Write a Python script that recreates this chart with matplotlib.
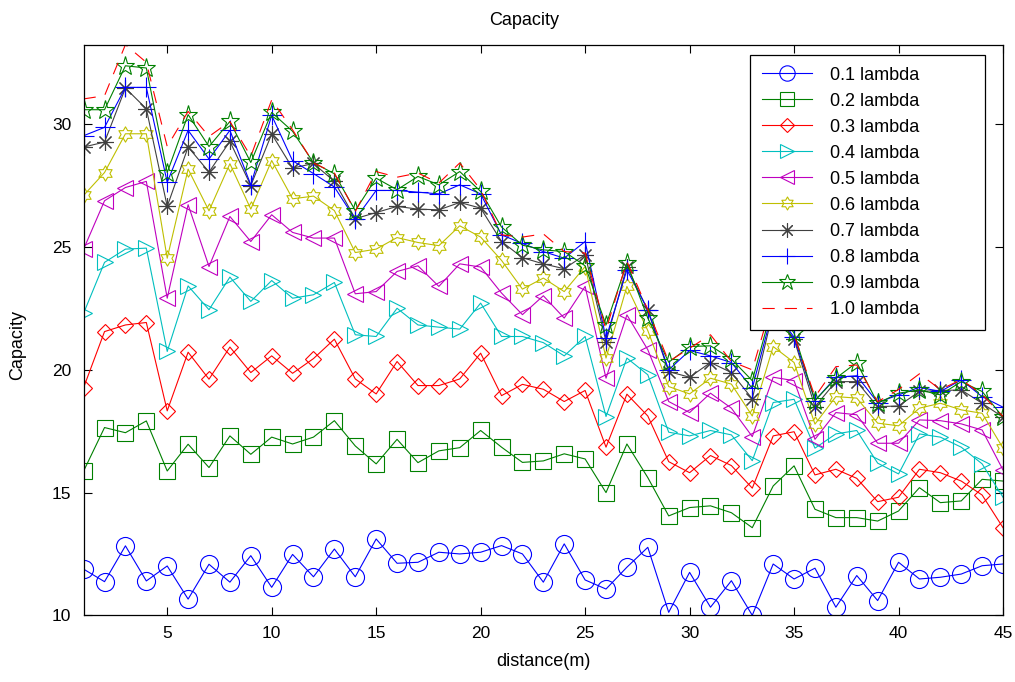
import numpy as np
import matplotlib
matplotlib.use('Agg')
import matplotlib.pyplot as plt
from matplotlib.path import Path

# capacity vs. distance for antenna spacings 0.1 .. 1.0 lambda
distance = np.arange(1, 46)

cap_01 = [11.88, 11.37, 12.83, 11.40, 12.01, 10.66, 12.08, 11.35, 12.43, 11.14,
          12.48, 11.57, 12.70, 11.57, 13.11, 12.12, 12.16, 12.57, 12.50, 12.57,
          12.84, 12.50, 11.35, 12.91, 11.44, 11.07, 11.96, 12.77, 10.12, 11.75,
          10.33, 11.41, 10.00, 12.09, 11.48, 11.92, 10.33, 11.62, 10.60, 12.16,
          11.48, 11.55, 11.68, 12.02, 12.09]
cap_02 = [15.88, 17.65, 17.44, 17.92, 15.88, 16.97, 16.02, 17.31, 16.56, 17.26,
          16.98, 17.26, 17.93, 16.90, 16.17, 17.17, 16.22, 16.70, 16.83, 17.53,
          16.85, 16.23, 16.29, 16.58, 16.37, 15.00, 16.98, 15.61, 14.05, 14.39,
          14.46, 14.18, 13.57, 15.27, 16.09, 14.32, 13.98, 13.98, 13.84, 14.25,
          15.20, 14.59, 14.66, 15.54, 15.47]
cap_03 = [19.28, 21.56, 21.83, 21.93, 18.33, 20.72, 19.62, 20.93, 19.89, 20.57,
          19.86, 20.46, 21.25, 19.63, 19.02, 20.34, 19.36, 19.36, 19.63, 20.68,
          18.95, 19.41, 19.21, 18.71, 19.16, 16.85, 19.01, 18.12, 16.26, 15.81,
          16.51, 16.10, 15.18, 17.31, 17.48, 15.72, 15.95, 15.58, 14.63, 14.81,
          15.95, 15.81, 15.47, 14.90, 13.57]
cap_04 = [22.31, 24.38, 24.92, 24.96, 20.75, 23.42, 22.45, 23.78, 22.79, 23.64,
          22.92, 23.06, 23.56, 21.43, 21.36, 22.51, 21.83, 21.74, 21.66, 22.72,
          21.36, 21.36, 21.11, 20.57, 21.36, 18.10, 20.48, 19.80, 17.46, 17.31,
          17.53, 17.35, 16.30, 18.67, 18.80, 16.81, 17.39, 17.53, 16.20, 15.76,
          17.39, 17.26, 16.85, 16.17, 14.81]
cap_05 = [24.92, 26.89, 27.43, 27.68, 22.92, 26.73, 24.21, 26.25, 25.23, 26.32,
          25.60, 25.37, 25.37, 23.10, 23.19, 24.01, 24.24, 23.40, 24.32, 24.19,
          23.13, 22.25, 23.02, 22.11, 23.40, 19.66, 22.24, 20.82, 18.71, 18.26,
          19.05, 18.44, 17.28, 19.70, 19.56, 17.17, 18.26, 18.17, 17.01, 17.01,
          17.96, 17.93, 17.80, 17.55, 15.92]
cap_06 = [27.11, 28.04, 29.62, 29.62, 24.55, 28.18, 26.48, 28.40, 26.55, 28.53,
          26.97, 27.08, 26.49, 24.78, 24.92, 25.39, 25.19, 25.06, 25.87, 25.41,
          24.46, 23.29, 23.74, 23.19, 24.21, 20.48, 23.40, 21.60, 19.32, 19.02,
          19.66, 19.42, 18.12, 20.95, 20.30, 17.79, 18.91, 18.85, 17.83, 17.72,
          18.44, 18.64, 18.37, 18.23, 16.81]
cap_07 = [29.08, 29.28, 31.48, 30.64, 26.66, 29.08, 28.06, 29.31, 27.51, 29.61,
          28.22, 28.41, 27.68, 26.16, 26.41, 26.66, 26.55, 26.52, 26.82, 26.59,
          25.23, 24.57, 24.32, 24.12, 24.69, 21.15, 24.21, 22.42, 19.93, 19.70,
          20.30, 19.89, 18.82, 22.40, 21.25, 18.50, 19.52, 19.52, 18.50, 18.53,
          19.12, 19.16, 19.18, 18.64, 18.07]
cap_08 = [29.54, 29.88, 31.51, 31.51, 27.64, 29.76, 28.59, 29.76, 27.54, 30.37,
          28.52, 28.00, 27.45, 26.14, 27.31, 27.31, 27.24, 27.17, 27.54, 27.17,
          25.50, 25.15, 24.82, 24.55, 25.23, 21.29, 24.08, 22.45, 20.00, 20.79,
          20.57, 20.30, 19.25, 22.50, 21.33, 18.75, 19.70, 19.76, 18.67, 18.98,
          19.29, 19.12, 19.59, 18.91, 18.48]
cap_09 = [30.60, 30.60, 32.39, 32.30, 28.04, 30.40, 29.10, 30.12, 28.45, 30.49,
          29.72, 28.44, 27.99, 26.49, 27.81, 27.34, 27.88, 27.54, 28.08, 27.27,
          25.82, 25.08, 24.89, 24.82, 24.24, 21.83, 24.35, 22.11, 20.31, 20.95,
          20.98, 20.44, 19.56, 22.70, 21.50, 18.75, 19.66, 20.30, 18.64, 19.05,
          19.18, 18.98, 19.52, 19.12, 18.07]
cap_10 = [31.04, 31.17, 33.25, 32.53, 29.10, 30.53, 29.51, 30.12, 28.70, 31.00,
          29.78, 28.43, 28.02, 26.45, 28.08, 27.85, 28.02, 27.61, 28.43, 27.34,
          25.50, 25.41, 25.54, 24.82, 24.76, 21.63, 24.42, 22.45, 20.34, 20.88,
          21.43, 20.34, 20.00, 22.90, 21.43, 18.90, 20.13, 20.20, 18.70, 19.20,
          19.84, 19.20, 19.60, 19.00, 18.10]

labels = ['0.1 lambda', '0.2 lambda', '0.3 lambda', '0.4 lambda', '0.5 lambda',
          '0.6 lambda', '0.7 lambda', '0.8 lambda', '0.9 lambda', '1.0 lambda']

plt.rcParams['font.family'] = ['Liberation Sans', 'DejaVu Sans']

hexagram = Path.unit_regular_star(6, 1 / np.sqrt(3))
asterisk = (8, 2, 0)

# (color, marker, markersize)
styles = [
    ((0, 0, 1), 'o', 13),
    ((0, 0.5, 0), 's', 12),
    ((1, 0, 0), 'D', 8.5),
    ((0, 0.75, 0.75), '>', 12),
    ((0.75, 0, 0.75), '<', 12),
    ((0.75, 0.75, 0), hexagram, 11),
    ((0.25, 0.25, 0.25), asterisk, 12),
    ((0, 0, 1), '+', 14),
    ((0, 0.5, 0), '*', 14),
]

fig = plt.figure(figsize=(10.15, 6.82), dpi=100)
ax = fig.add_axes([0.0824, 0.0978, 0.9058, 0.8367])

series = [cap_01, cap_02, cap_03, cap_04, cap_05, cap_06, cap_07, cap_08, cap_09]
for vals, lab, (col, mk, ms) in zip(series, labels, styles):
    ax.plot(distance, vals, color=col, marker=mk, markersize=ms,
            markerfacecolor='none', markeredgecolor=col, markeredgewidth=0.8,
            linewidth=0.8, label=lab)
ax.plot(distance, cap_10, color=(1, 0, 0), linestyle=(0, (11, 9)),
        linewidth=0.8, label=labels[9])

ax.set_xlim(1, 45)
ax.set_ylim(10, 33.25)
ax.set_xticks(np.arange(5, 46, 5))
ax.set_yticks([10, 15, 20, 25, 30])
ax.tick_params(direction='in', length=6, top=True, right=True,
               labelsize=12.5, width=0.8)
ax.tick_params(axis='x', pad=8)
ax.tick_params(axis='y', pad=9)
for sp in ax.spines.values():
    sp.set_linewidth(0.9)

ax.set_title('Capacity', fontsize=13, pad=14, x=0.479)
ax.set_xlabel('distance(m)', fontsize=13, labelpad=8)
ax.set_ylabel('Capacity', fontsize=13)
ax.yaxis.set_label_coords(-0.063, 0.474)

leg = ax.legend(loc='upper right', bbox_to_anchor=(0.7248, 0.5, 0.2556, 0.482),
                mode='expand', borderaxespad=0, fontsize=13, handlelength=2.8,
                handletextpad=1.0, labelspacing=0.5, borderpad=0.65,
                markerscale=0.85, fancybox=False, framealpha=1)
leg.get_frame().set_edgecolor('black')
leg.get_frame().set_linewidth(0.9)

fig.savefig('out.png', dpi=100)
